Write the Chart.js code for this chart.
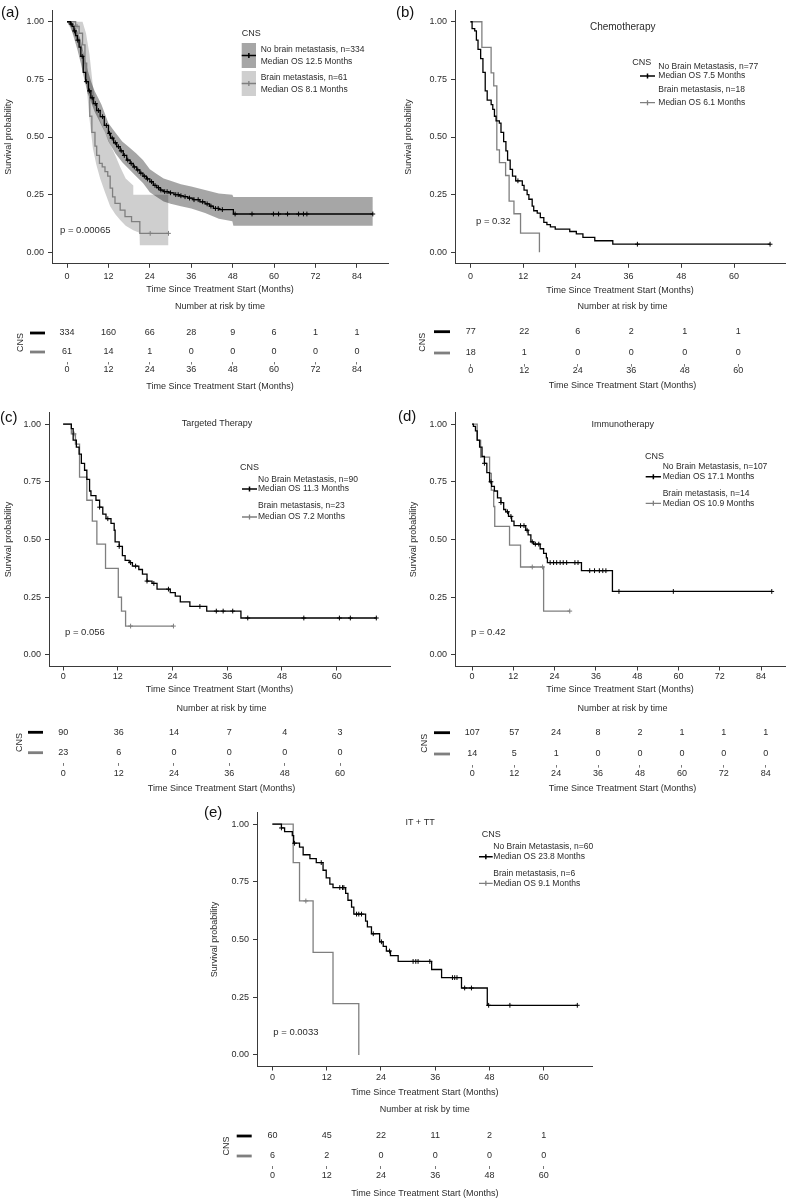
<!DOCTYPE html>
<html><head><meta charset="utf-8">
<script src="https://cdn.jsdelivr.net/npm/chart.js@4.4.1/dist/chart.umd.min.js"></script>
<style>
html,body{margin:0;padding:0;background:#fff;width:790px;height:1200px;overflow:hidden;position:relative}
canvas{position:absolute}
</style></head><body>
<script>
// ---------------- DATA ----------------
// (a) all patients
const a_noBM_t = [0,1,1.5,2,2.5,3,3.5,4,4.7,5.4,6.2,6.9,7.6,8.6,9.6,10.8,12,12.6,13.5,14.4,15.4,16.3,17.3,18.3,19.2,20.2,21.1,22,23,24,25,26,27,27.9,29.5,31,32.5,33.7,35,36.5,38.5,40,41.3,42.4,44,48.2,88.6];
const a_noBM_s = [1,0.99,0.98,0.96,0.94,0.92,0.89,0.85,0.78,0.74,0.70,0.67,0.645,0.615,0.588,0.55,0.516,0.495,0.475,0.458,0.44,0.42,0.40,0.385,0.37,0.357,0.343,0.33,0.318,0.306,0.29,0.28,0.27,0.263,0.258,0.25,0.245,0.241,0.235,0.228,0.219,0.21,0.2,0.19,0.185,0.166,0.166];
const a_noBM_c = [1.2,2.2,3.1,4.4,5.6,6.5,7.3,8.2,9.1,10.3,11.4,12.3,13.1,14,14.9,15.7,16.6,17.6,18.6,19.5,20.5,21.4,22.4,23.3,24.5,25.5,26.5,27.2,28.3,29,30,31.5,32.2,33,34.2,35.5,36.8,38,39.3,40.6,41.7,43,43.8,45,48.7,53.6,59.8,61.3,63.9,67.1,68.5,69.5,88.6];
const a_BM_t = [0,2.5,3.5,4.5,5.2,5.7,6.2,6.6,7.2,8.1,8.6,9.4,10.2,11,11.8,12.5,13.2,13.9,15.4,16.8,18.7,21.1,29.4];
const a_BM_s = [1,0.98,0.95,0.90,0.82,0.74,0.69,0.59,0.52,0.46,0.42,0.386,0.37,0.35,0.33,0.278,0.24,0.212,0.183,0.155,0.133,0.082,0.082];
const a_BM_c = [2.9,24.1,29.4];
const a_noBM_band_t = [0,1,2,3,4,5,6,7,8,9,10,11,12,14,16,18,20,22,24,26,28,30,33,36,40,44,47.9,48.2,88.6];
const a_noBM_up = [1,1,0.99,0.96,0.92,0.85,0.79,0.74,0.70,0.67,0.64,0.60,0.56,0.52,0.48,0.455,0.43,0.40,0.36,0.34,0.32,0.31,0.295,0.285,0.27,0.255,0.25,0.24,0.24];
const a_noBM_lo = [1,0.98,0.93,0.88,0.82,0.75,0.69,0.65,0.61,0.58,0.55,0.52,0.48,0.43,0.39,0.36,0.33,0.30,0.26,0.24,0.22,0.21,0.2,0.19,0.17,0.145,0.135,0.115,0.115];
const a_BM_band_t = [0,4.5,5.5,6.5,7.5,8.5,9.6,11,12.5,14,15.4,17,19.2,19.3,29.4];
const a_BM_up = [1,1,0.95,0.86,0.72,0.63,0.57,0.52,0.47,0.42,0.37,0.32,0.29,0.25,0.25];
const a_BM_lo = [1,0.87,0.75,0.58,0.45,0.38,0.32,0.26,0.2,0.165,0.14,0.115,0.095,0.085,0.085];
const a_BM_lo_t = [0,4.5,5.5,6.5,7.5,8.5,9.6,11,12.5,14,15.4,17,19.2,21,21.1,29.4];
const a_BM_lo2 = [1,0.87,0.75,0.58,0.45,0.38,0.32,0.26,0.2,0.165,0.14,0.115,0.095,0.085,0.03,0.03];
const a_riskT = [0,12,24,36,48,60,72,84];
const a_risk_noBM = [334,160,66,28,9,6,1,1];
const a_risk_BM = [61,14,1,0,0,0,0,0];
const a_legend = ['No brain metastasis, n=334','Median OS 12.5 Months','Brain metastasis, n=61','Median OS 8.1 Months'];
const a_p = 'p = 0.00065';

// (b) Chemotherapy
const b_noBM_t = [0,0.37,0.97,1.35,1.72,2.32,2.84,3.36,3.81,4.71,5.08,5.46,5.83,6.58,6.95,7.55,8.07,8.45,9.04,9.57,10.3,11.8,12.2,12.9,13.3,14.05,14.4,15.2,15.9,16.7,17.4,18.2,19.3,22.6,24.1,25.6,28.3,32.4,68.2];
const b_noBM_s = [1,0.97,0.96,0.92,0.88,0.84,0.78,0.70,0.66,0.64,0.62,0.59,0.57,0.56,0.52,0.48,0.44,0.40,0.36,0.33,0.31,0.29,0.27,0.25,0.23,0.2,0.18,0.17,0.15,0.13,0.12,0.11,0.10,0.09,0.08,0.065,0.05,0.035,0.035];
const b_noBM_c = [10.8,38,68.2];
const b_BM_t = [0,2.6,4.7,5.3,6.0,6.6,8.0,8.8,9.9,11.4,15.7];
const b_BM_s = [1,0.889,0.778,0.722,0.444,0.389,0.333,0.222,0.167,0.083,0];
const b_BM_c = [];
const b_riskT = [0,12,24,36,48,60];
const b_risk_noBM = [77,22,6,2,1,1];
const b_risk_BM = [18,1,0,0,0,0];
const b_legend = ['No Brain Metastasis, n=77','Median OS 7.5 Months','Brain metastasis, n=18','Median OS 6.1 Months'];
const b_title = 'Chemotherapy';
const b_p = 'p = 0.32';

// (c) Targeted therapy
const c_noBM_t = [0,1.8,2.2,2.9,3.5,4.0,4.7,5.2,5.8,6.1,7.2,8.0,8.7,9.4,10.5,11.2,11.4,12.3,13.0,13.6,14.5,15.2,16.6,17.4,18.4,19.5,20.6,23.5,24.6,25.7,27.8,31.5,39,68.7];
const c_noBM_s = [1,0.98,0.93,0.90,0.87,0.83,0.80,0.76,0.71,0.69,0.67,0.64,0.61,0.59,0.57,0.54,0.49,0.47,0.43,0.41,0.40,0.385,0.37,0.35,0.32,0.31,0.285,0.27,0.255,0.23,0.21,0.19,0.16,0.16];
const c_noBM_c = [8.0,9.8,12.3,14.8,15.9,18.4,19.9,23.1,30,33.6,35.1,37.2,40.5,52.8,60.6,63,68.7];
const c_BM_t = [0,1.8,2.7,3.6,5.2,6.4,7.4,9.3,12.1,12.8,13.7,24.2];
const c_BM_s = [1,0.957,0.913,0.77,0.67,0.58,0.48,0.375,0.25,0.19,0.125,0.125];
const c_BM_c = [2.4,14.8,24.2];
const c_riskT = [0,12,24,36,48,60];
const c_risk_noBM = [90,36,14,7,4,3];
const c_risk_BM = [23,6,0,0,0,0];
const c_legend = ['No Brain Metastasis, n=90','Median OS 11.3 Months','Brain metastasis, n=23','Median OS 7.2 Months'];
const c_title = 'Targeted Therapy';
const c_p = 'p = 0.056';

// (d) Immunotherapy
const d_noBM_t = [0,0.4,1,1.5,2.2,2.9,3.6,4.3,5.1,5.7,6.5,7.4,8.4,9.2,9.8,10.6,11.5,12.2,15.6,16.3,17.1,17.9,19.8,20.8,21.6,21.9,31.8,40.8,87.1];
const d_noBM_s = [1,0.99,0.97,0.93,0.90,0.86,0.83,0.79,0.75,0.73,0.71,0.68,0.66,0.63,0.62,0.60,0.58,0.56,0.54,0.52,0.49,0.48,0.46,0.44,0.42,0.40,0.365,0.275,0.275];
const d_noBM_c = [3.6,5.5,8.4,10.3,11.3,14.1,15.1,16,17.5,18.4,19.4,22.7,23.7,24.6,25.6,26.5,27.5,29.9,30.8,34.2,35.6,37,38,38.9,42.7,58.5,87.1];
const d_BM_t = [0,1.5,2.5,5.1,5.6,6.3,6.6,10.9,14.1,20.8,28.4];
const d_BM_s = [1,0.929,0.857,0.786,0.714,0.643,0.557,0.476,0.381,0.19,0.19];
const d_BM_c = [17.5,20.5,28.4];
const d_riskT = [0,12,24,36,48,60,72,84];
const d_risk_noBM = [107,57,24,8,2,1,1,1];
const d_risk_BM = [14,5,1,0,0,0,0,0];
const d_legend = ['No Brain Metastasis, n=107','Median OS 17.1 Months','Brain metastasis, n=14','Median OS 10.9 Months'];
const d_title = 'Immunotherapy';
const d_p = 'p = 0.42';

// (e) IT + TT
const e_noBM_t = [0,2.0,2.7,4.4,4.7,6.0,6.8,8.3,9.7,11.2,11.9,12.7,13.4,16.2,16.7,17.5,18.0,20.6,21.0,21.9,23.7,24.5,25.2,26.1,27.8,35.2,37.4,41.8,47.5,67.4];
const e_noBM_s = [1,0.983,0.967,0.95,0.917,0.90,0.867,0.85,0.833,0.80,0.767,0.74,0.725,0.70,0.67,0.64,0.61,0.58,0.555,0.525,0.49,0.47,0.45,0.43,0.405,0.37,0.335,0.29,0.215,0.215];
const e_noBM_c = [2.0,4.9,10.8,14.9,15.5,15.8,18.6,19.1,19.7,22.3,24.1,25.9,31.1,31.7,32.2,34.8,39.8,40.3,40.8,42.5,44,47.8,52.5,67.4];
const e_BM_t = [0,4.6,6.0,9.0,13.4,19.1];
const e_BM_s = [1,0.833,0.667,0.444,0.222,0];
const e_BM_c = [7.4];
const e_riskT = [0,12,24,36,48,60];
const e_risk_noBM = [60,45,22,11,2,1];
const e_risk_BM = [6,2,0,0,0,0];
const e_legend = ['No Brain Metastasis, n=60','Median OS 23.8 Months','Brain metastasis, n=6','Median OS 9.1 Months'];
const e_title = 'IT + TT';
const e_p = 'p = 0.0033';

const yTickVals = [0,0.25,0.5,0.75,1];
const xTitleText = 'Time Since Treatment Start (Months)';
const yTitleText = 'Survival probability';
const riskTitleText = 'Number at risk by time';

// ---------------- RENDERING ----------------
const FONT = "'Liberation Sans', Arial, Helvetica, sans-serif";
const TXT = '#2b2b2b';
const AX = '#3a3a3a';
const BLACK = '#000000', GRAY = '#7f7f7f';
Chart.defaults.font.family = FONT;
Chart.defaults.color = TXT;

function pts(ts, vs){ return ts.map((t,i)=>({x:t,y:vs[i]})); }
function stepAt(ts, ss, t){ let v=ss[0]; for(let i=0;i<ts.length;i++){ if(ts[i]<=t) v=ss[i]; } return v; }
function mkCanvas(b){ const c=document.createElement('canvas'); c.width=b.w; c.height=b.h; c.style.left=b.x+'px'; c.style.top=b.y+'px'; c.style.width=b.w+'px'; c.style.height=b.h+'px'; document.body.appendChild(c); return c; }

function decoPlugin(box, D){
  return {id:'deco', afterDraw(chart){
    const ctx=chart.ctx; ctx.save();
    const X=v=>v-box.x, Y=v=>v-box.y;
    (D.boxes||[]).forEach(b=>{ ctx.fillStyle=b.fill; ctx.fillRect(X(b.x),Y(b.y),b.w,b.h); });
    (D.keys||[]).forEach(k=>{ ctx.strokeStyle=k.color; ctx.lineWidth=k.lw; ctx.beginPath();
      ctx.moveTo(X(k.x1),Y(k.y)); ctx.lineTo(X(k.x2),Y(k.y));
      const cx=(X(k.x1)+X(k.x2))/2; ctx.moveTo(cx,Y(k.y)-2.5); ctx.lineTo(cx,Y(k.y)+2.5); ctx.stroke(); });
    D.texts.forEach(t=>{ ctx.font=t.size+'px '+FONT; ctx.fillStyle=t.color||TXT; ctx.textAlign=t.align||'left'; ctx.textBaseline='middle'; ctx.fillText(t.s, X(t.x), Y(t.y)); });
    ctx.restore();
  }};
}

function buildMain(P){
  const box=P.box, A=P.area;
  const tickSize=9, titleSize=9;
  const lhT=titleSize*1.2, lhTick=tickSize*1.2, TL=4;
  const padLeft = P.yTitleX - lhT/2 - box.x;
  const yW = A.l - box.x - padLeft;
  const xH = P.xTitleY - A.b + lhT/2;
  const padBottom = box.y + box.h - A.b - xH;
  const xPad = P.xLabelY - A.b - TL - lhTick/2;
  const ds=[];
  (P.bands||[]).forEach(b=>{
    ds.push({type:'line', data:pts(b.tu,b.up), stepped:false, tension:0, borderWidth:0, borderColor:'rgba(0,0,0,0)', pointRadius:0, fill:false, order:10});
    ds.push({type:'line', data:pts(b.tl,b.lo), stepped:false, tension:0, borderWidth:0, borderColor:'rgba(0,0,0,0)', pointRadius:0, fill:'-1', backgroundColor:b.color, order:10});
  });
  P.groups.forEach((g,gi)=>{
    ds.push({type:'line', data:pts(g.t,g.s), stepped:true, borderColor:g.color, borderWidth:g.lw, pointRadius:0, fill:false, order:2+gi*2});
    ds.push({type:'scatter', data:g.c.map(t=>({x:t,y:stepAt(g.t,g.s,t)})), pointStyle:'cross', pointRadius:2.4, pointBorderWidth:1, borderColor:g.color, backgroundColor:g.color, showLine:false, order:1+gi*2});
  });
  const axisCommon = {
    grid:{display:true, drawOnChartArea:false, drawTicks:true, tickLength:TL, color:AX, lineWidth:1},
    border:{display:true, color:AX, width:1}
  };
  new Chart(mkCanvas(box), {
    type:'line',
    data:{datasets:ds},
    options:{
      responsive:false, animation:false, devicePixelRatio:1, events:[],
      layout:{padding:{left:padLeft, right:box.x+box.w-A.r, top:A.t-box.y, bottom:padBottom}},
      plugins:{legend:{display:false}, tooltip:{enabled:false}, title:{display:false}},
      scales:{
        x:Object.assign({type:'linear', min:P.xMin, max:P.xMax,
          afterBuildTicks:s=>{ s.ticks=P.xTicks.map(v=>({value:v})); },
          afterFit:s=>{ s.height=xH; },
          ticks:{font:{size:tickSize}, color:TXT, padding:xPad, maxRotation:0, autoSkip:false},
          title:{display:true, text:xTitleText, font:{size:titleSize}, color:TXT, padding:0}
        }, axisCommon),
        y:Object.assign({type:'linear', min:-0.05, max:1.05,
          afterBuildTicks:s=>{ s.ticks=yTickVals.map(v=>({value:v})); },
          afterFit:s=>{ s.width=yW; },
          ticks:{font:{size:tickSize}, color:TXT, padding:4, callback:v=>Number(v).toFixed(2)},
          title:{display:true, text:yTitleText, font:{size:titleSize}, color:TXT, padding:0}
        }, axisCommon)
      }
    },
    plugins:[decoPlugin(box, P.deco)]
  });
}

function buildRisk(P, R){
  const box=R.box, d=R.row2-R.row1;
  const A={l:P.area.l, r:P.area.r, t:R.row1-d/2, b:R.row2+d/2};
  const fs=9, lh=fs*1.2, TL=3;
  const pt = R.titleY - box.y - lh/2;
  const pb = A.t - box.y - pt - lh;
  const padLeft = R.cnsX - lh/2 - box.x;
  const yW = A.l - box.x - padLeft;
  const xH = R.xTitleY - A.b + lh/2;
  const padBottom = box.y + box.h - A.b - xH;
  const xPad = R.labelY - A.b - TL - lh/2;
  const rowColors=[BLACK, GRAY];
  const ds = R.rows.map((counts,ri)=>({type:'scatter', data:R.times.map(t=>({x:t,y:ri+1})), counts:counts, pointRadius:0, showLine:false}));
  const riskPlugin = {id:'risk', afterDatasetsDraw(chart){
    const ctx=chart.ctx; ctx.save();
    ctx.font=fs+'px '+FONT; ctx.fillStyle=TXT; ctx.textAlign='center'; ctx.textBaseline='middle';
    chart.data.datasets.forEach((dset,di)=>{
      chart.getDatasetMeta(di).data.forEach((el,i)=>{ ctx.fillText(String(dset.counts[i]), el.x, el.y); });
      const y=chart.scales.y.getPixelForValue(di+1);
      ctx.fillStyle=rowColors[di]; ctx.fillRect(R.mx[0]-box.x, y-1.4, R.mx[1]-R.mx[0], 2.8); ctx.fillStyle=TXT;
    });
    ctx.restore();
  }};
  new Chart(mkCanvas(box), {
    type:'scatter',
    data:{datasets:ds},
    options:{
      responsive:false, animation:false, devicePixelRatio:1, events:[],
      layout:{padding:{left:padLeft, right:box.x+box.w-A.r, top:0, bottom:padBottom}},
      plugins:{legend:{display:false}, tooltip:{enabled:false},
        title:{display:true, text:riskTitleText, fullSize:false, color:TXT, font:{size:fs, weight:'normal'}, padding:{top:pt, bottom:pb}}},
      scales:{
        x:{type:'linear', min:P.xMin, max:P.xMax,
          afterBuildTicks:s=>{ s.ticks=R.times.map(v=>({value:v})); },
          afterFit:s=>{ s.height=xH; },
          grid:{display:true, drawOnChartArea:false, drawTicks:true, tickLength:TL, color:'#555', lineWidth:0.8},
          border:{display:false},
          ticks:{font:{size:fs}, color:TXT, padding:xPad, maxRotation:0, autoSkip:false},
          title:{display:true, text:xTitleText, font:{size:fs}, color:TXT, padding:0}},
        y:{type:'linear', min:0.5, max:2.5, reverse:true,
          afterFit:s=>{ s.width=yW; },
          grid:{display:false}, border:{display:false}, ticks:{display:false},
          title:{display:true, text:'CNS', font:{size:fs}, color:TXT, padding:0}}
      }
    },
    plugins:[riskPlugin]
  });
}

function legendTexts(L, x, ys, size){ return L.map((s,i)=>({s:s, x:x, y:ys[i], size:size})); }

const ticks60=[0,12,24,36,48,60], ticks84=[0,12,24,36,48,60,72,84];

// Panel a
const PA = {box:{x:0,y:0,w:395,h:298}, area:{l:52,r:388,t:10.2,b:263.8}, xMin:-4.35, xMax:93.0, xTicks:ticks84,
  yTitleX:8.3, xTitleY:290, xLabelY:277,
  bands:[{tu:a_noBM_band_t, up:a_noBM_up, tl:a_noBM_band_t, lo:a_noBM_lo, color:'rgba(0,0,0,0.35)'},
         {tu:a_BM_band_t, up:a_BM_up, tl:a_BM_lo_t, lo:a_BM_lo2, color:'rgba(128,128,128,0.38)'}],
  groups:[{t:a_noBM_t, s:a_noBM_s, c:a_noBM_c, color:BLACK, lw:1.3},{t:a_BM_t, s:a_BM_s, c:a_BM_c, color:GRAY, lw:1.3}],
  deco:{boxes:[{x:241.7,y:43,w:14.3,h:25,fill:'#a6a6a6'},{x:241.7,y:71,w:14.3,h:25,fill:'#cfcfcf'}],
    keys:[{x1:241.7,x2:256,y:55.5,color:BLACK,lw:1.5},{x1:241.7,x2:256,y:83.5,color:GRAY,lw:1.3}],
    texts:[{s:'(a)',x:1,y:13,size:15,color:'#111'},{s:'CNS',x:241.7,y:34,size:9}]
      .concat(legendTexts(a_legend,260.7,[49.3,61.7,77.3,89.3],8.5))
      .concat([{s:a_p,x:60,y:230,size:9.5}])}
};
// Panel b
const PB = {box:{x:395,y:0,w:395,h:298}, area:{l:455,r:790,t:10.2,b:263.8}, xMin:-3.52, xMax:71.6, xTicks:ticks60,
  yTitleX:408.3, xTitleY:290.7, xLabelY:276.7,
  groups:[{t:b_noBM_t, s:b_noBM_s, c:b_noBM_c, color:BLACK, lw:1.3},{t:b_BM_t, s:b_BM_s, c:b_BM_c, color:GRAY, lw:1.3}],
  deco:{keys:[{x1:640,x2:655,y:76,color:BLACK,lw:1.5},{x1:640,x2:655,y:102.7,color:GRAY,lw:1.3}],
    texts:[{s:'(b)',x:396,y:13,size:15,color:'#111'},{s:b_title,x:622.7,y:27.3,size:10,align:'center'},{s:'CNS',x:632.3,y:62.3,size:9}]
      .concat(legendTexts(b_legend,658.3,[66.7,76,90,102.7],8.5))
      .concat([{s:b_p,x:476,y:221.7,size:9.5}])}
};
// Panel c
const PC = {box:{x:0,y:400,w:395,h:298}, area:{l:49,r:394,t:412.5,b:666.5}, xMin:-3.1, xMax:71.7, xTicks:ticks60,
  yTitleX:8.3, xTitleY:690, xLabelY:676.7,
  groups:[{t:c_noBM_t, s:c_noBM_s, c:c_noBM_c, color:BLACK, lw:1.3},{t:c_BM_t, s:c_BM_s, c:c_BM_c, color:GRAY, lw:1.3}],
  deco:{keys:[{x1:242,x2:257,y:489,color:BLACK,lw:1.5},{x1:242,x2:257,y:517,color:GRAY,lw:1.3}],
    texts:[{s:'(c)',x:0,y:418,size:15,color:'#111'},{s:c_title,x:217,y:424,size:9,align:'center'},{s:'CNS',x:240,y:468,size:9}]
      .concat(legendTexts(c_legend,258,[480,489,506,517],8.5))
      .concat([{s:c_p,x:65,y:632,size:9.5}])}
};
// Panel d
const PD = {box:{x:395,y:400,w:395,h:298}, area:{l:455,r:790,t:412.5,b:666.5}, xMin:-4.95, xMax:90.95, xTicks:ticks84,
  yTitleX:413.3, xTitleY:690, xLabelY:676.7,
  groups:[{t:d_noBM_t, s:d_noBM_s, c:d_noBM_c, color:BLACK, lw:1.3},{t:d_BM_t, s:d_BM_s, c:d_BM_c, color:GRAY, lw:1.3}],
  deco:{keys:[{x1:645.7,x2:661,y:476.7,color:BLACK,lw:1.5},{x1:645.7,x2:661,y:503.3,color:GRAY,lw:1.3}],
    texts:[{s:'(d)',x:398,y:417,size:15,color:'#111'},{s:d_title,x:622.7,y:425,size:9,align:'center'},{s:'CNS',x:645,y:456.7,size:9}]
      .concat(legendTexts(d_legend,662.7,[466.7,476.7,494,503.3],8.5))
      .concat([{s:d_p,x:471,y:632.3,size:9.5}])}
};
// Panel e
const PE = {box:{x:200,y:795,w:400,h:305}, area:{l:257,r:592.7,t:812.5,b:1066.5}, xMin:-3.4, xMax:70.8, xTicks:ticks60,
  yTitleX:215, xTitleY:1093, xLabelY:1078,
  groups:[{t:e_noBM_t, s:e_noBM_s, c:e_noBM_c, color:BLACK, lw:1.3},{t:e_BM_t, s:e_BM_s, c:e_BM_c, color:GRAY, lw:1.3}],
  deco:{keys:[{x1:479,x2:492.7,y:856.7,color:BLACK,lw:1.5},{x1:479,x2:492.7,y:883.3,color:GRAY,lw:1.3}],
    texts:[{s:'(e)',x:204,y:813,size:15,color:'#111'},{s:e_title,x:420,y:823,size:9,align:'center'},{s:'CNS',x:481.7,y:835,size:9}]
      .concat(legendTexts(e_legend,493.3,[846.7,856.7,873.3,883.3],8.5))
      .concat([{s:e_p,x:273.3,y:1032.3,size:9.5}])}
};

buildMain(PA); buildMain(PB); buildMain(PC); buildMain(PD); buildMain(PE);
buildRisk(PA, {box:{x:0,y:298,w:395,h:102}, times:a_riskT, rows:[a_risk_noBM,a_risk_BM], titleY:307, row1:333, row2:352, labelY:370, xTitleY:387, cnsX:20.7, mx:[30,45]});
buildRisk(PB, {box:{x:395,y:298,w:395,h:102}, times:b_riskT, rows:[b_risk_noBM,b_risk_BM], titleY:307, row1:331.7, row2:353, labelY:370.7, xTitleY:386, cnsX:423, mx:[434,450]});
buildRisk(PC, {box:{x:0,y:698,w:395,h:97}, times:c_riskT, rows:[c_risk_noBM,c_risk_BM], titleY:709, row1:732.3, row2:752.7, labelY:773.7, xTitleY:789, cnsX:20, mx:[28,43]});
buildRisk(PD, {box:{x:395,y:698,w:395,h:97}, times:d_riskT, rows:[d_risk_noBM,d_risk_BM], titleY:709, row1:732.7, row2:754, labelY:774, xTitleY:789, cnsX:425, mx:[434,450]});
buildRisk(PE, {box:{x:200,y:1100,w:400,h:100}, times:e_riskT, rows:[e_risk_noBM,e_risk_BM], titleY:1110, row1:1136, row2:1156, labelY:1176, xTitleY:1194, cnsX:226.7, mx:[236.7,251.7]});
</script>
</body></html>
